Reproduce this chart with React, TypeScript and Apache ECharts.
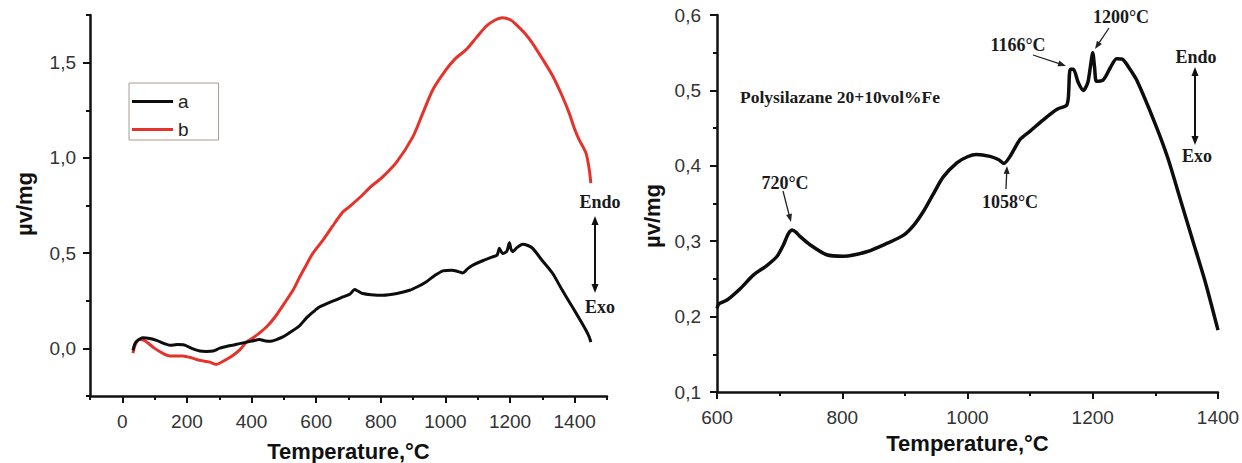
import React, { useEffect, useRef } from "react";
import * as echarts from "echarts";

// ---- Left panel, curve a (black) ----
const aTemp = [33, 38, 44, 64, 85, 106, 130, 147, 170, 189, 215, 240, 260, 281, 300, 322, 345, 363, 400, 425, 440, 456, 475, 497, 520, 549, 570, 590, 610, 640, 683, 705, 719, 730, 744, 770, 806, 850, 889, 915, 940, 965, 992, 1020, 1040, 1054, 1070, 1085, 1115, 1146, 1160, 1167, 1172, 1177, 1190, 1198, 1203, 1208, 1222, 1239, 1255, 1270, 1300, 1332, 1360, 1393, 1420, 1435, 1445, 1450];
const aVal = [-0.01, 0.02, 0.037, 0.056, 0.052, 0.042, 0.025, 0.016, 0.02, 0.019, 0.0, -0.014, -0.016, -0.014, 0.0, 0.01, 0.018, 0.025, 0.038, 0.046, 0.04, 0.037, 0.045, 0.06, 0.085, 0.12, 0.16, 0.19, 0.217, 0.24, 0.27, 0.285, 0.309, 0.3, 0.288, 0.282, 0.279, 0.288, 0.305, 0.325, 0.349, 0.38, 0.407, 0.41, 0.403, 0.396, 0.42, 0.437, 0.46, 0.48, 0.49, 0.525, 0.51, 0.498, 0.51, 0.554, 0.52, 0.507, 0.53, 0.547, 0.54, 0.525, 0.46, 0.393, 0.31, 0.217, 0.14, 0.095, 0.06, 0.033];

// ---- Left panel, curve b (red) ----
const bTemp = [33, 40, 54, 70, 100, 130, 147, 187, 215, 240, 270, 291, 315, 342, 365, 384, 400, 420, 446, 475, 507, 530, 549, 570, 590, 621, 650, 683, 703, 740, 770, 806, 850, 899, 930, 961, 1002, 1030, 1064, 1095, 1126, 1150, 1177, 1200, 1219, 1245, 1270, 1300, 1332, 1360, 1383, 1400, 1414, 1435, 1445, 1450];
const bVal = [-0.025, 0.02, 0.047, 0.04, 0.0, -0.03, -0.04, -0.04, -0.05, -0.063, -0.072, -0.084, -0.065, -0.037, -0.005, 0.033, 0.05, 0.075, 0.112, 0.17, 0.25, 0.31, 0.375, 0.44, 0.5, 0.568, 0.64, 0.717, 0.744, 0.8, 0.85, 0.9, 0.98, 1.11, 1.235, 1.358, 1.463, 1.52, 1.568, 1.63, 1.691, 1.72, 1.735, 1.725, 1.7, 1.655, 1.6, 1.52, 1.43, 1.33, 1.235, 1.15, 1.095, 1.025, 0.94, 0.867];

// ---- Right panel: Polysilazane 20+10vol%Fe ----
const cTemp = [600, 603, 616, 637, 658, 680, 696, 706, 714, 720, 726, 733, 749, 775, 802, 839, 871, 898, 915, 930, 945, 961, 983, 1000, 1014, 1036, 1050, 1058, 1068, 1084, 1100, 1121, 1143, 1158, 1161, 1164, 1169, 1177, 1185, 1192, 1196, 1200, 1203, 1206, 1217, 1228, 1238, 1248, 1258, 1270, 1300, 1320, 1340, 1360, 1380, 1400];
const cVal = [0.211, 0.217, 0.222, 0.237, 0.255, 0.268, 0.28, 0.295, 0.31, 0.315, 0.312, 0.306, 0.295, 0.282, 0.28, 0.286, 0.297, 0.308, 0.322, 0.34, 0.362, 0.385, 0.404, 0.412, 0.415, 0.4125, 0.408, 0.403, 0.4125, 0.435, 0.446, 0.461, 0.475, 0.48, 0.49, 0.528, 0.528, 0.51, 0.5, 0.51, 0.53, 0.55, 0.53, 0.512, 0.514, 0.53, 0.542, 0.541, 0.53, 0.514, 0.455, 0.41, 0.355, 0.3, 0.245, 0.182];

// ---- Tick values ----
const leftXMajor = [0, 200, 400, 600, 800, 1000, 1200, 1400];
const leftXMinor = [-100, 100, 300, 500, 700, 900, 1100, 1300, 1500];
const leftYMajor = [0, 0.5, 1, 1.5];
const leftYMinor = [-0.25, 0.25, 0.75, 1.25, 1.75];
const rightXMajor = [600, 800, 1000, 1200, 1400];
const rightXMinor = [700, 900, 1100, 1300];
const rightYMajor = [0.1, 0.2, 0.3, 0.4, 0.5, 0.6];
const rightYMinor = [0.15, 0.25, 0.35, 0.45, 0.55];

const seriesNames = ["a", "b"];
const xTitle = "Temperature,°C";
const yTitle = "µv/mg";

const SANS = '"Liberation Sans", Arial, sans-serif';
const SERIF = '"Liberation Serif", "Times New Roman", serif';
const LABEL_COLOR = "#333";
const AXIS_COLOR = "#111";

const zip = (t: number[], v: number[]) => t.map((x, i) => [x, v[i]]);
const comma = (v: number) => v.toFixed(1).replace(".", ",");

function arrowHead(x: number, y: number, ux: number, uy: number, hl: number, hw: number, color: string) {
  const bx = x - ux * hl;
  const by = y - uy * hl;
  const px = -uy;
  const py = ux;
  return {
    type: "polygon",
    shape: {
      points: [
        [x, y],
        [bx + (px * hw) / 2, by + (py * hw) / 2],
        [bx - (px * hw) / 2, by - (py * hw) / 2],
      ],
    },
    style: { fill: color },
    silent: true,
  };
}

function arrow(x1: number, y1: number, x2: number, y2: number, w: number, hl: number, hw: number, color: string, both = false) {
  const dx = x2 - x1;
  const dy = y2 - y1;
  const L = Math.hypot(dx, dy);
  const ux = dx / L;
  const uy = dy / L;
  const els: any[] = [];
  const sx = both ? x1 + ux * hl * 0.8 : x1;
  const sy = both ? y1 + uy * hl * 0.8 : y1;
  els.push({
    type: "line",
    shape: { x1: sx, y1: sy, x2: x2 - ux * hl * 0.8, y2: y2 - uy * hl * 0.8 },
    style: { stroke: color, lineWidth: w },
    silent: true,
  });
  els.push(arrowHead(x2, y2, ux, uy, hl, hw, color));
  if (both) els.push(arrowHead(x1, y1, -ux, -uy, hl, hw, color));
  return els;
}

function label(text: string, x: number, y: number, size = 18, align = "center") {
  return {
    type: "text",
    x,
    y,
    style: {
      text,
      font: `bold ${size}px ${SERIF}`,
      fill: "#1a1a1a",
      align,
      verticalAlign: "middle",
    },
    silent: true,
  };
}

// axis carrying line + labels (no ticks)
function mainAxis(gridIndex: number, min: number, max: number, labels: number[], fmt: (v: number) => string, margin: number, extra: any = {}) {
  return {
    type: "value",
    gridIndex,
    min,
    max,
    axisLine: { show: true, onZero: false, lineStyle: { color: AXIS_COLOR, width: 2.5 } },
    axisTick: { show: false },
    axisLabel: {
      show: true,
      customValues: labels,
      formatter: (v: number) => fmt(v),
      margin,
      fontSize: 19,
      color: LABEL_COLOR,
      fontFamily: SANS,
    },
    splitLine: { show: false },
    ...extra,
  };
}

// axis carrying only ticks
function tickAxis(gridIndex: number, min: number, max: number, ticks: number[], position: string, length: number) {
  return {
    type: "value",
    gridIndex,
    min,
    max,
    position,
    axisLine: { show: false, onZero: false },
    axisTick: { show: true, customValues: ticks, length, lineStyle: { color: AXIS_COLOR, width: 2 } },
    axisLabel: { show: false },
    splitLine: { show: false },
  };
}

export default function App() {
  const ref = useRef<HTMLDivElement>(null);

  useEffect(() => {
    document.body.style.margin = "0";
    const chart = echarts.init(ref.current!, null, { renderer: "svg" });

    const nameStyle = { fontSize: 22, fontWeight: "bold", color: "#111", fontFamily: SANS };

    const graphics: any[] = [
      {
        type: "text",
        x: 24,
        y: 204,
        rotation: Math.PI / 2,
        style: { text: yTitle, font: `bold 22px ${SANS}`, fill: "#111", align: "center", verticalAlign: "middle" },
        silent: true,
      },
      {
        type: "text",
        x: 652,
        y: 216,
        rotation: Math.PI / 2,
        style: { text: yTitle, font: `bold 22px ${SANS}`, fill: "#111", align: "center", verticalAlign: "middle" },
        silent: true,
      },
      label("Endo", 600, 202),
      ...arrow(595, 216, 595, 293, 2, 9, 7, "#111", true),
      label("Exo", 600, 307),
      label("Polysilazane 20+10vol%Fe", 740, 97, 17.5, "left"),
      label("720°C", 785, 183),
      ...arrow(783, 191, 791, 222, 1.3, 8, 6, "#222"),
      label("1058°C", 1010, 202),
      ...arrow(1006, 189, 1007, 166, 1.3, 8, 6, "#222"),
      label("1166°C", 1018, 45),
      ...arrow(1033, 55, 1066, 66, 1.3, 8, 6, "#222"),
      label("1200°C", 1121, 17),
      ...arrow(1109, 28, 1095, 49, 1.3, 8, 6, "#222"),
      label("Endo", 1196, 57),
      ...arrow(1195, 67, 1195, 145, 2, 9, 7, "#111", true),
      label("Exo", 1197, 156),
    ];

    const option: any = {
      animation: false,
      backgroundColor: "#fff",
      grid: [
        { left: 90, top: 15, width: 517, height: 381, outerBoundsMode: "none", containLabel: false },
        { left: 717, top: 15, width: 501, height: 377, outerBoundsMode: "none", containLabel: false },
      ],
      legend: {
        data: seriesNames,
        orient: "vertical",
        left: 129,
        top: 83,
        icon: "rect",
        itemWidth: 41,
        itemHeight: 3,
        itemGap: 9,
        padding: [9, 30, 1, 3],
        borderColor: "#a89a90",
        borderWidth: 1,
        selectedMode: false,
        textStyle: { fontSize: 19, color: "#222", fontFamily: SANS, lineHeight: 17 },
      },
      xAxis: [
        mainAxis(0, -100, 1500, leftXMajor, (v) => String(v), 16, {
          position: "bottom",
          name: xTitle,
          nameLocation: "middle",
          nameGap: 44,
          nameTextStyle: nameStyle,
        }),
        tickAxis(0, -100, 1500, leftXMajor, "bottom", 7),
        tickAxis(0, -100, 1500, leftXMinor, "bottom", 4),
        mainAxis(1, 600, 1400, rightXMajor, (v) => String(v), 16, {
          position: "bottom",
          name: xTitle,
          nameLocation: "middle",
          nameGap: 40,
          nameTextStyle: nameStyle,
        }),
        tickAxis(1, 600, 1400, rightXMajor, "bottom", 7),
        tickAxis(1, 600, 1400, rightXMinor, "bottom", 4),
      ],
      yAxis: [
        mainAxis(0, -0.25, 1.75, leftYMajor, comma, 14, { position: "left" }),
        tickAxis(0, -0.25, 1.75, leftYMajor, "left", 7),
        tickAxis(0, -0.25, 1.75, leftYMinor, "left", 4),
        mainAxis(1, 0.1, 0.6, rightYMajor, comma, 16, { position: "left" }),
        tickAxis(1, 0.1, 0.6, rightYMajor, "left", 7),
        tickAxis(1, 0.1, 0.6, rightYMinor, "left", 4),
      ],
      series: [
        {
          name: "a",
          type: "line",
          xAxisIndex: 0,
          yAxisIndex: 0,
          data: zip(aTemp, aVal),
          showSymbol: false,
          smooth: 0.25,
          color: "#0d0d0d",
          lineStyle: { width: 3, color: "#0d0d0d" },
          z: 3,
        },
        {
          name: "b",
          type: "line",
          xAxisIndex: 0,
          yAxisIndex: 0,
          data: zip(bTemp, bVal),
          showSymbol: false,
          smooth: 0.25,
          color: "#e5322b",
          lineStyle: { width: 3, color: "#e5322b" },
          z: 2,
        },
        {
          name: "Polysilazane 20+10vol%Fe",
          type: "line",
          xAxisIndex: 3,
          yAxisIndex: 3,
          data: zip(cTemp, cVal),
          showSymbol: false,
          smooth: 0.25,
          color: "#0d0d0d",
          lineStyle: { width: 3.5, color: "#0d0d0d" },
        },
      ],
      graphic: graphics,
    };

    chart.setOption(option);
    return () => chart.dispose();
  }, []);

  return <div ref={ref} style={{ width: 1242, height: 463, background: "#fff" }} />;
}
